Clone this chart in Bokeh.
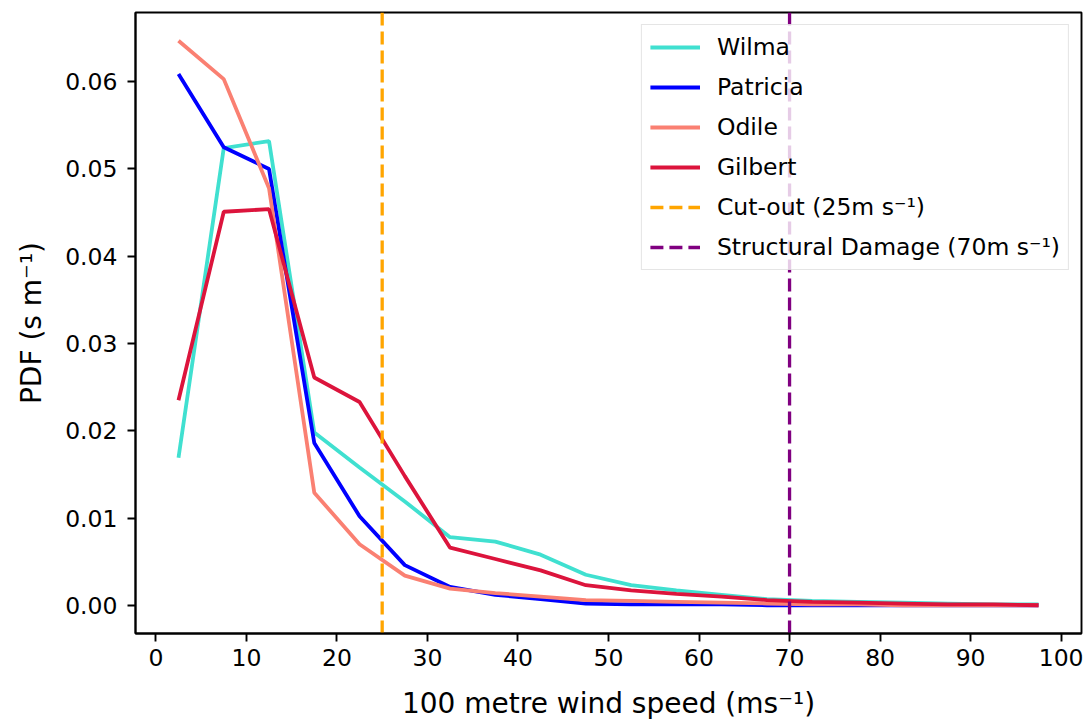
from bokeh.plotting import figure
from bokeh.models import Range1d, FixedTicker
from bokeh.embed import file_html
from bokeh.resources import INLINE

# ---- data ----
wind_speed = [2.5, 7.5, 12.5, 17.5, 22.5, 27.5, 32.5, 37.5, 42.5, 47.5,
              52.5, 57.5, 62.5, 67.5, 72.5, 77.5, 82.5, 87.5, 92.5, 97.5]
wilma = [0.0169, 0.0524, 0.0532, 0.0198, 0.0158, 0.0119, 0.0078, 0.0073, 0.0058, 0.0035,
         0.0023, 0.0017, 0.0012, 0.0007, 0.0005, 0.0004, 0.0003, 0.0002, 0.0001, 0.0001]
patricia = [0.0609, 0.0525, 0.0500, 0.0186, 0.0102, 0.0046, 0.0021, 0.0012, 0.0007, 0.0002,
            0.0001, 0.0001, 0.0001, 0.0, 0.0, 0.0, 0.0, 0.0, 0.0, 0.0]
odile = [0.0647, 0.0603, 0.0478, 0.0129, 0.0070, 0.0034, 0.0019, 0.0014, 0.0010, 0.0006,
         0.0005, 0.0004, 0.0003, 0.0002, 0.0001, 0.0001, 0.0, 0.0, 0.0, 0.0]
gilbert = [0.0235, 0.0451, 0.0454, 0.0261, 0.0233, 0.0148, 0.0066, 0.0053, 0.0040, 0.0023,
           0.0017, 0.0013, 0.0010, 0.0006, 0.0004, 0.0003, 0.0002, 0.0001, 0.0001, 0.0]
storm_names = ["Wilma", "Patricia", "Odile", "Gilbert"]
storm_colors = ["#40E0D0", "#0000FF", "#FA8072", "#DC143C"]
threshold_speeds = [25, 70]
threshold_labels = ["Cut-out (25m s\u207b\u00b9)", "Structural Damage (70m s\u207b\u00b9)"]
threshold_colors = ["#FFA500", "#800080"]
x_ticks = [0, 10, 20, 30, 40, 50, 60, 70, 80, 90, 100]
y_ticks = [0.0, 0.01, 0.02, 0.03, 0.04, 0.05, 0.06]
y_tick_labels = ["0.00", "0.01", "0.02", "0.03", "0.04", "0.05", "0.06"]
x_label = "100 metre wind speed (ms\u207b\u00b9)"
y_label = "PDF (s m\u207b\u00b9)"

series = [wilma, patricia, odile, gilbert]

# ranges with 5% margins like matplotlib
xmin, xmax = min(wind_speed), max(wind_speed)
all_y = [v for s in series for v in s]
ymin, ymax = min(all_y), max(all_y)
xpad = 0.05 * (xmax - xmin)
ypad = 0.05 * (ymax - ymin)
y_lo, y_hi = ymin - ypad, ymax + ypad

FONT = "DejaVu Sans"

p = figure(width=1088, height=722, output_backend="svg", toolbar_location=None,
           x_range=Range1d(xmin - xpad, xmax + xpad),
           y_range=Range1d(y_lo, y_hi),
           min_border_left=135, min_border_right=7, min_border_top=12, min_border_bottom=89)

p.xgrid.visible = False
p.ygrid.visible = False
p.outline_line_color = "black"
p.outline_line_width = 1.9
p.outline_line_alpha = 1.0
p.background_fill_color = "white"
p.border_fill_color = "white"

for name, color, vals in zip(storm_names, storm_colors, series):
    p.line(wind_speed, vals, line_color=color, line_width=3.8, legend_label=name)

for spd, lab, col in zip(threshold_speeds, threshold_labels, threshold_colors):
    p.segment(x0=[spd], y0=[y_lo], x1=[spd], y1=[y_hi], line_color=col,
              line_width=3.3, line_dash="13 6", legend_label=lab)

p.xaxis.ticker = FixedTicker(ticks=x_ticks)
p.yaxis.ticker = FixedTicker(ticks=y_ticks)
p.yaxis.major_label_overrides = {t: l for t, l in zip(y_ticks, y_tick_labels)}
p.xaxis.axis_label = x_label
p.yaxis.axis_label = y_label

for ax in (p.xaxis, p.yaxis):
    ax.axis_line_color = "black"
    ax.axis_line_width = 1.9
    ax.major_tick_line_color = "black"
    ax.major_tick_line_width = 1.9
    ax.major_tick_out = 8
    ax.major_tick_in = 0
    ax.minor_tick_out = 0
    ax.minor_tick_in = 0
    ax.major_label_text_font = FONT
    ax.major_label_text_font_size = "23.5px"
    ax.major_label_text_color = "black"
    ax.axis_label_text_font = FONT
    ax.axis_label_text_font_size = "28px"
    ax.axis_label_text_font_style = "normal"
    ax.axis_label_text_color = "black"

p.xaxis.major_label_standoff = 7
p.yaxis.major_label_standoff = 10
p.xaxis.axis_label_standoff = 18
p.yaxis.axis_label_standoff = 14

lg = p.legend[0]
lg.location = "top_right"
lg.margin = 12
lg.padding = 8
lg.spacing = 12
lg.label_height = 24
lg.glyph_height = 24
lg.glyph_width = 50
lg.label_standoff = 17
lg.label_text_font = FONT
lg.label_text_font_size = "23.5px"
lg.label_text_color = "black"
lg.border_line_color = "#cccccc"
lg.border_line_width = 1.9
lg.background_fill_color = "white"
lg.background_fill_alpha = 0.8

open("out.html", "w").write(file_html(p, INLINE))
